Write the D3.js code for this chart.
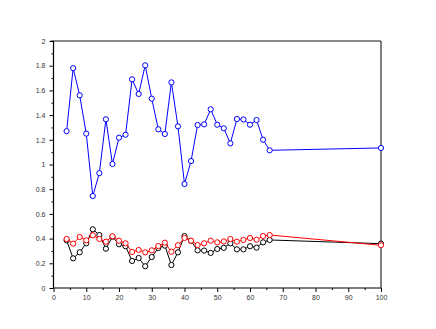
<!DOCTYPE html>
<html>
<head>
<meta charset="utf-8">
<script src="https://cdn.jsdelivr.net/npm/d3@7"></script>
<style>
  body { margin: 0; background: #fff; }
  svg { display: block; }
  .tick text { font-family: "Liberation Sans", Arial, sans-serif; font-size: 7px; fill: #333; }
</style>
</head>
<body>
<svg id="chart"></svg>
<script>
// x positions of the samples
const xs = [4, 6, 8, 10, 12, 14, 16, 18, 20, 22, 24, 26, 28, 30, 32, 34,
            36, 38, 40, 42, 44, 46, 48, 50, 52, 54, 56, 58, 60, 62, 64, 66, 100];

const blueVals = [1.27, 1.78, 1.56, 1.25, 0.745, 0.93, 1.366, 1.004, 1.217, 1.241, 1.69, 1.571,
                  1.803, 1.533, 1.285, 1.247, 1.665, 1.309, 0.842, 1.028, 1.32, 1.325, 1.447,
                  1.322, 1.293, 1.171, 1.368, 1.365, 1.322, 1.36, 1.201, 1.115, 1.134];

const redVals = [0.397, 0.359, 0.413, 0.386, 0.427, 0.397, 0.375, 0.419, 0.383, 0.362, 0.292,
                 0.308, 0.289, 0.305, 0.340, 0.367, 0.294, 0.346, 0.405, 0.383, 0.348, 0.362,
                 0.383, 0.370, 0.377, 0.397, 0.375, 0.389, 0.405, 0.391, 0.421, 0.429, 0.346];

const blackVals = [0.386, 0.240, 0.289, 0.362, 0.475, 0.429, 0.318, 0.415, 0.354, 0.338, 0.219,
                   0.243, 0.176, 0.251, 0.324, 0.343, 0.186, 0.289, 0.421, 0.381, 0.305, 0.303,
                   0.284, 0.316, 0.325, 0.362, 0.313, 0.313, 0.338, 0.327, 0.370, 0.389, 0.359];

const xTicks = [0, 10, 20, 30, 40, 50, 60, 70, 80, 90, 100];
const xMinor = [5, 15, 25, 35, 45, 55, 65, 75, 85, 95];
const yTicks = [0, 0.2, 0.4, 0.6, 0.8, 1, 1.2, 1.4, 1.6, 1.8, 2];
const yMinor = [0.1, 0.3, 0.5, 0.7, 0.9, 1.1, 1.3, 1.5, 1.7, 1.9];

const W = 436, H = 329;
const plotL = 53.5, plotR = 381, plotT = 41, plotB = 288;

const svg = d3.select("#chart").attr("width", W).attr("height", H);

const x = d3.scaleLinear().domain([0, 100]).range([plotL, plotR]);
const y = d3.scaleLinear().domain([0, 2]).range([plotB, plotT]);

// box: top and bottom grey, left and right black
svg.append("line").attr("x1", plotL - 3).attr("x2", plotR).attr("y1", plotT).attr("y2", plotT)
    .attr("stroke", "#8a8a8a").attr("stroke-width", 2);
svg.append("line").attr("x1", plotL).attr("x2", plotR).attr("y1", plotB).attr("y2", plotB)
    .attr("stroke", "#555").attr("stroke-width", 1.5);
svg.append("line").attr("x1", plotR).attr("x2", plotR).attr("y1", plotT).attr("y2", plotB)
    .attr("stroke", "#000").attr("stroke-width", 1);
svg.append("line").attr("x1", plotL).attr("x2", plotL).attr("y1", plotT).attr("y2", plotB)
    .attr("stroke", "#000").attr("stroke-width", 1.2);

// x axis
const gx = svg.append("g").attr("transform", `translate(0,${plotB})`)
    .call(d3.axisBottom(x).tickValues(xTicks).tickSize(4).tickPadding(3).tickFormat(d3.format("d")));
const gxm = svg.append("g").attr("transform", `translate(0,${plotB})`)
    .call(d3.axisBottom(x).tickValues(xMinor).tickSize(2).tickFormat(""));

// y axis
const gy = svg.append("g").attr("transform", `translate(${plotL},0)`)
    .call(d3.axisLeft(y).tickValues(yTicks).tickSize(4).tickPadding(4).tickFormat(d3.format("~g")));
const gym = svg.append("g").attr("transform", `translate(${plotL},0)`)
    .call(d3.axisLeft(y).tickValues(yMinor).tickSize(2).tickFormat(""));

[gx, gxm, gy, gym].forEach(g => {
    g.select(".domain").remove();
    g.selectAll(".tick line").attr("stroke", "#000");
});

// series
const series = [
    { vals: blackVals, color: "#000000" },
    { vals: redVals, color: "#ff0000" },
    { vals: blueVals, color: "#0000ff" }
];

const line = d3.line().x(d => x(d[0])).y(d => y(d[1]));

series.forEach(s => {
    const pts = xs.map((v, i) => [v, s.vals[i]]);
    svg.append("path")
        .datum(pts)
        .attr("d", line)
        .attr("fill", "none")
        .attr("stroke", s.color)
        .attr("stroke-width", 1);
    svg.selectAll(null)
        .data(pts)
        .enter().append("circle")
        .attr("cx", d => x(d[0]))
        .attr("cy", d => y(d[1]))
        .attr("r", 2.6)
        .attr("fill", "#fff")
        .attr("stroke", s.color)
        .attr("stroke-width", 1);
});
</script>
</body>
</html>
